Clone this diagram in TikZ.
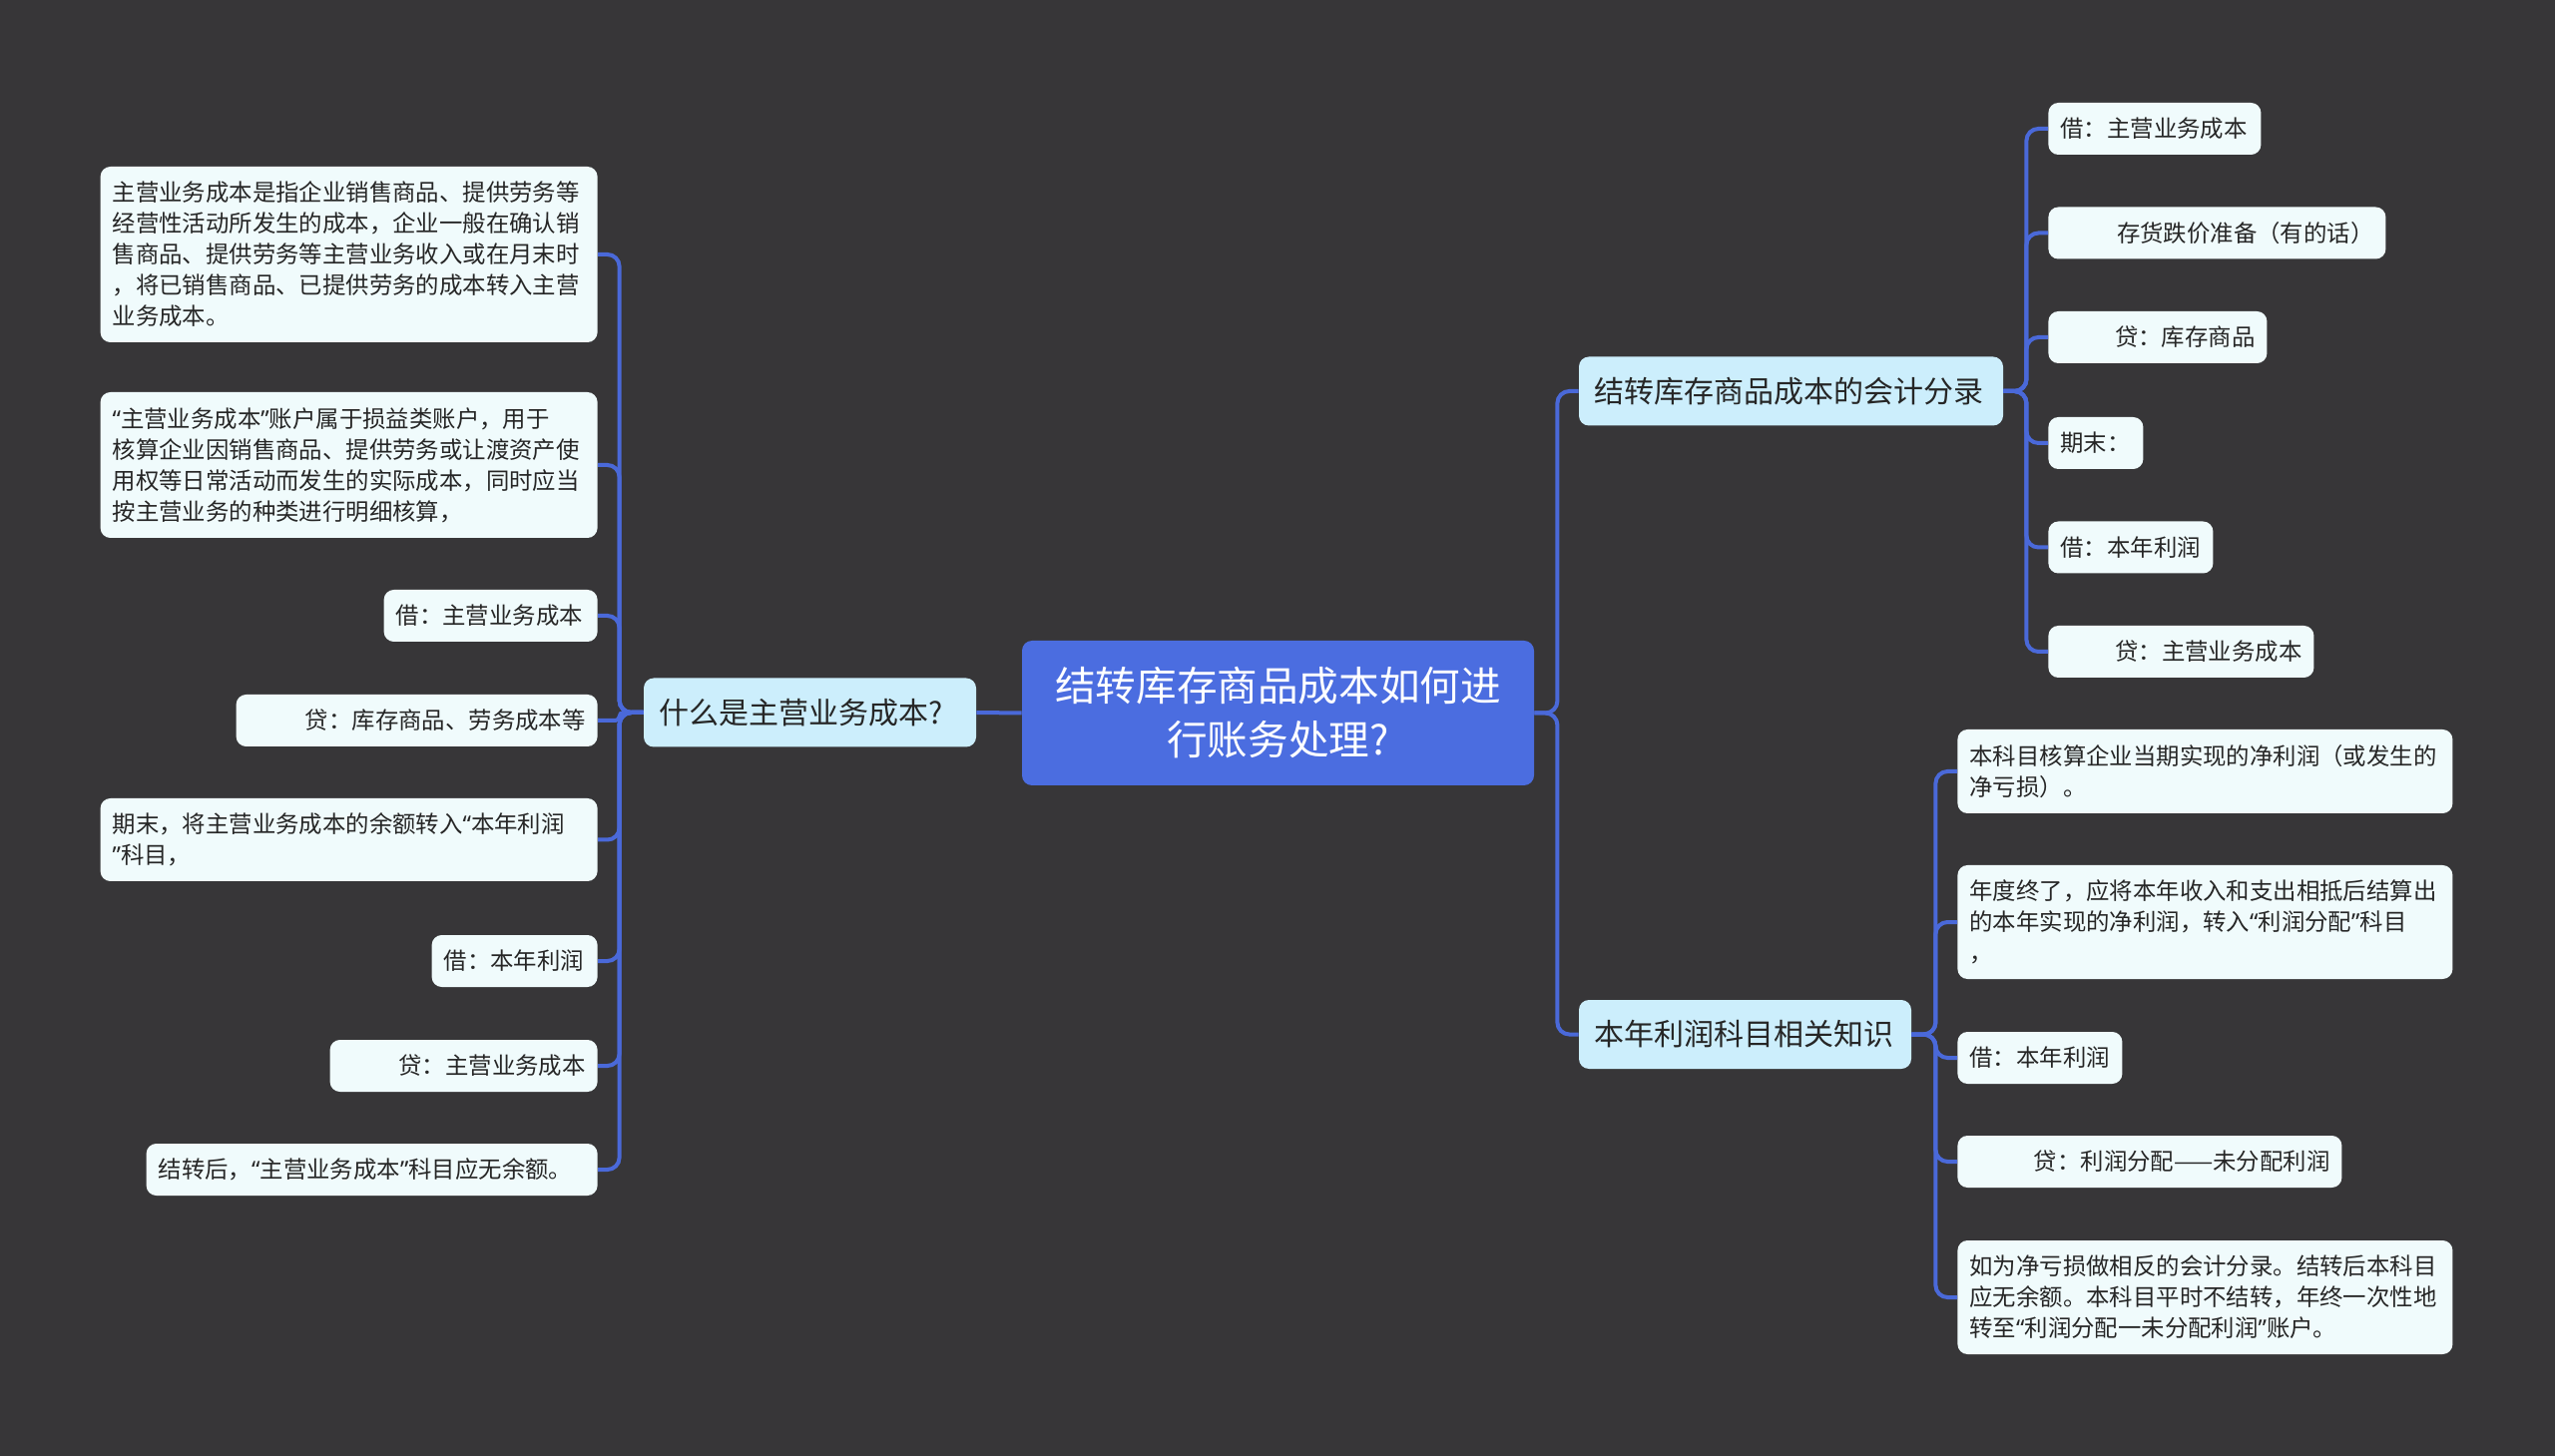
\documentclass[tikz,border=0pt]{standalone}
\usepackage{fontspec}
\setmainfont{Noto Sans CJK SC}
\newfontfamily\quofont{Noto Sans}
\newcommand\zhlq{{\quofont “}}
\newcommand\zhrq{{\quofont ”}}

\definecolor{bgdark}{HTML}{373638}
\definecolor{rootblue}{HTML}{4B6DE0}
\definecolor{topicblue}{HTML}{CCEEFC}
\definecolor{leafwhite}{HTML}{F0FBFC}
\definecolor{linkblue}{HTML}{4A69D9}

\begin{document}
\begin{tikzpicture}[
  x=0.5pt, y=-0.5pt,
  root/.style={fill=rootblue, rounded corners=5pt, text=white, align=center, inner sep=0pt,
    font=\fontsize{20.3pt}{27pt}\selectfont, minimum width=256.5pt, minimum height=72.5pt},
  topic/.style={fill=topicblue, rounded corners=5pt, text=black!85, align=left, inner xsep=7.5pt,
    font=\fontsize{15pt}{18pt}\selectfont, minimum height=34.5pt},
  leaf/.style={fill=leafwhite, rounded corners=5pt, text=black!85, align=left, inner xsep=6pt, inner ysep=4pt,
    font=\fontsize{11.7pt}{15.5pt}\selectfont, minimum height=26pt},
  link/.style={draw=linkblue, line width=2pt, rounded corners=6pt}
]
  \fill[bgdark] (0,0) rectangle (2560,1459);
  \useasboundingbox (0,0) rectangle (2560,1459);

  % centre
  \node[root] (main) at (1280.5,714.5) {结转库存商品成本如何进\\行账务处理?};

  % main topics
  \node[topic, text width=151.5pt] (what) at (811.5,714) {什么是主营业务成本?};
  \node[topic, text width=197.5pt] (entry) at (1794.5,392) {结转库存商品成本的会计分录};
  \node[topic, text width=151.5pt] (profit) at (1748.5,1036.5) {本年利润科目相关知识};

  % left side
  \node[leaf, anchor=east, text width=237pt, minimum height=88pt] (w1) at (599,255)
    {主营业务成本是指企业销售商品、提供劳务等\\经营性活动所发生的成本，企业一般在确认销\\售商品、提供劳务等主营业务收入或在月末时\\，将已销售商品、已提供劳务的成本转入主营\\业务成本。};
  \node[leaf, anchor=east, text width=237pt, minimum height=73pt] (w2) at (599,466)
    {\zhlq 主营业务成本\zhrq 账户属于损益类账户，用于\\核算企业因销售商品、提供劳务或让渡资产使\\用权等日常活动而发生的实际成本，同时应当\\按主营业务的种类进行明细核算，};
  \node[leaf, anchor=east, text width=95pt] (w3) at (599,617) {借：主营业务成本};
  \node[leaf, anchor=east, text width=169pt, align=right] (w4) at (599,722) {贷：库存商品、劳务成本等};
  \node[leaf, anchor=east, text width=237pt, minimum height=41.5pt] (w5) at (599,841.5)
    {期末，将主营业务成本的余额转入\zhlq 本年利润\\\zhrq 科目，};
  \node[leaf, anchor=east, text width=71pt] (w6) at (599,963) {借：本年利润};
  \node[leaf, anchor=east, text width=122pt, align=right] (w7) at (599,1068) {贷：主营业务成本};
  \node[leaf, anchor=east, text width=214pt] (w8) at (599,1172) {结转后，\zhlq 主营业务成本\zhrq 科目应无余额。};

  % right side, upper group
  \node[leaf, anchor=west, text width=94.5pt] (e1) at (2052,129) {借：主营业务成本};
  \node[leaf, anchor=west, text width=157pt, align=right] (e2) at (2052,233.5) {存货跌价准备（有的话）};
  \node[leaf, anchor=west, text width=97.5pt, align=right] (e3) at (2052,338) {贷：库存商品};
  \node[leaf, anchor=west, text width=35.5pt] (e4) at (2052,444) {期末：};
  \node[leaf, anchor=west, text width=70.5pt] (e5) at (2052,548.5) {借：本年利润};
  \node[leaf, anchor=west, text width=121pt, align=right] (e6) at (2052,653) {贷：主营业务成本};

  % right side, lower group
  \node[leaf, anchor=west, text width=236pt, minimum height=42pt] (p1) at (1961,773)
    {本科目核算企业当期实现的净利润（或发生的\\净亏损）。};
  \node[leaf, anchor=west, text width=236pt, minimum height=57pt] (p2) at (1961,924)
    {年度终了，应将本年收入和支出相抵后结算出\\的本年实现的净利润，转入\zhlq 利润分配\zhrq 科目\\，};
  \node[leaf, anchor=west, text width=70.5pt] (p3) at (1961,1060) {借：本年利润};
  \node[leaf, anchor=west, text width=180.5pt, align=right] (p4) at (1961,1164) {贷：利润分配——未分配利润};
  \node[leaf, anchor=west, text width=236pt, minimum height=57pt] (p5) at (1961,1300)
    {如为净亏损做相反的会计分录。结转后本科目\\应无余额。本科目平时不结转，年终一次性地\\转至\zhlq 利润分配一未分配利润\zhrq 账户。};

  % connectors
  \draw[link] (main.west) -- (what.east);
  \draw[link] (main.east) -- ++(11.5pt,0) |- (entry.west);
  \draw[link] (main.east) -- ++(11.5pt,0) |- (profit.west);

  \draw[link] (what.west) -- ++(-12pt,0) |- (w1.east);
  \draw[link] (what.west) -- ++(-12pt,0) |- (w2.east);
  \draw[link] (what.west) -- ++(-12pt,0) |- (w3.east);
  \draw[link, rounded corners=2pt] (what.west) -- ++(-12pt,0) |- (w4.east);
  \draw[link] (what.west) -- ++(-12pt,0) |- (w5.east);
  \draw[link] (what.west) -- ++(-12pt,0) |- (w6.east);
  \draw[link] (what.west) -- ++(-12pt,0) |- (w7.east);
  \draw[link] (what.west) -- ++(-12pt,0) |- (w8.east);

  \draw[link] (entry.east) -- ++(11.5pt,0) |- (e1.west);
  \draw[link] (entry.east) -- ++(11.5pt,0) |- (e2.west);
  \draw[link] (entry.east) -- ++(11.5pt,0) |- (e3.west);
  \draw[link] (entry.east) -- ++(11.5pt,0) |- (e4.west);
  \draw[link] (entry.east) -- ++(11.5pt,0) |- (e5.west);
  \draw[link] (entry.east) -- ++(11.5pt,0) |- (e6.west);

  \draw[link] (profit.east) -- ++(12pt,0) |- (p1.west);
  \draw[link] (profit.east) -- ++(12pt,0) |- (p2.west);
  \draw[link] (profit.east) -- ++(12pt,0) |- (p3.west);
  \draw[link] (profit.east) -- ++(12pt,0) |- (p4.west);
  \draw[link] (profit.east) -- ++(12pt,0) |- (p5.west);
\end{tikzpicture}
\end{document}
